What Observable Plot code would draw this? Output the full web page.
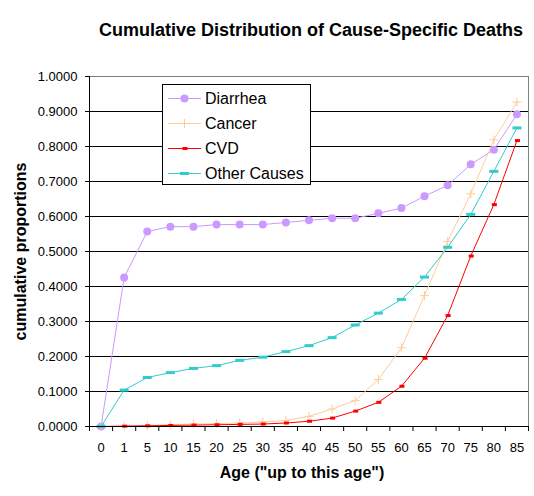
<!DOCTYPE html>
<html><head><meta charset="utf-8">
<script src="https://cdn.jsdelivr.net/npm/d3@7"></script>
<script src="https://cdn.jsdelivr.net/npm/@observablehq/plot@0.6"></script>
<style>
html,body{margin:0;padding:0;background:#fff;}
#chart{position:relative;width:534px;height:496px;}
</style></head><body><div id="chart"></div>
<script>
const title = "Cumulative Distribution of Cause-Specific Deaths";
const xLabel = 'Age ("up to this age")';
const yLabel = "cumulative proportions";
const ages = ["0","1","5","10","15","20","25","30","35","40","45","50","55","60","65","70","75","80","85"];
const yTicks = [0, 0.1, 0.2, 0.3, 0.4, 0.5, 0.6, 0.7, 0.8, 0.9, 1.0];
const seriesNames = ["Diarrhea", "Cancer", "CVD", "Other Causes"];
const seriesColors = ["#CC99FF", "#FFCC99", "#FF0000", "#33CCCC"];
const diarrhea = [0, 0.426, 0.557, 0.571, 0.571, 0.577, 0.577, 0.577, 0.583, 0.589, 0.595, 0.595, 0.609, 0.624, 0.658, 0.689, 0.749, 0.791, 0.892];
const cancer   = [0, 0.001, 0.003, 0.005, 0.007, 0.008, 0.010, 0.013, 0.017, 0.029, 0.050, 0.074, 0.134, 0.225, 0.374, 0.529, 0.665, 0.819, 0.927];
const cvd      = [0, 0.001, 0.002, 0.003, 0.004, 0.005, 0.006, 0.007, 0.010, 0.015, 0.024, 0.044, 0.069, 0.115, 0.195, 0.317, 0.487, 0.634, 0.817];
const other    = [0, 0.104, 0.140, 0.154, 0.166, 0.174, 0.189, 0.198, 0.214, 0.231, 0.254, 0.290, 0.324, 0.363, 0.427, 0.512, 0.606, 0.729, 0.853];
const seriesValues = [diarrhea, cancer, cvd, other];

const rows = seriesNames.flatMap((name, s) => seriesValues[s].map((v, i) => ({series: name, i, age: ages[i], v})));

const font = "'Liberation Sans', Arial, sans-serif";
const markerSymbols = [
  {draw(ctx){ ctx.moveTo(4, 0); ctx.arc(0, 0, 4, 0, 2 * Math.PI); }},
  {draw(ctx){ ctx.moveTo(-4.5, 0); ctx.lineTo(4.5, 0); ctx.moveTo(0, -4.5); ctx.lineTo(0, 4.5); }},
  {draw(ctx){ ctx.rect(-2, -1.5, 5, 3); }},
  {draw(ctx){ ctx.rect(-4.5, -1.5, 9, 3); }}
];
const markerFill = [true, false, true, true];

const marks = [
  Plot.ruleY(yTicks.filter(t => t > 0 && t < 1), {stroke: "#000"}),
  Plot.ruleY([1], {stroke: "#808080"}),
  Plot.ruleX([ages.length - 0.5], {stroke: "#808080"}),
  Plot.axisY({ticks: yTicks, tickFormat: d3.format(".4f"), tickSize: 4, tickPadding: 8, fontSize: 13, label: null, stroke: "#000"}),
  Plot.axisX(d3.range(ages.length + 1).map(k => k - 0.5), {tickSize: 5, tickFormat: () => "", label: null, stroke: "#000"}),
  Plot.axisX({ticks: d3.range(ages.length), tickFormat: i => ages[i], tickSize: 0, tickPadding: 16, fontSize: 13, label: null}),
  ...seriesNames.flatMap((name, s) => {
    const d = rows.filter(r => r.series === name);
    return [
      Plot.line(d, {x: "i", y: "v", stroke: seriesColors[s], strokeWidth: 1}),
      Plot.dot(d, {x: "i", y: "v", symbol: markerSymbols[s],
        fill: markerFill[s] ? seriesColors[s] : "none",
        stroke: markerFill[s] ? "none" : seriesColors[s], strokeWidth: 1})
    ];
  }),
  Plot.ruleX([-0.5], {stroke: "#000"}),
  Plot.ruleY([0], {stroke: "#000"}),
  Plot.text([title], {frameAnchor: "top", lineAnchor: "middle", textAnchor: "middle", dy: -46, dx: 2, fontSize: 18, fontWeight: "bold", fill: "#000"}),
  Plot.text([yLabel], {frameAnchor: "left", lineAnchor: "middle", textAnchor: "middle", dx: -69, rotate: -90, fontSize: 16, fontWeight: "bold", fill: "#000"}),
  Plot.text([xLabel], {frameAnchor: "bottom", lineAnchor: "middle", textAnchor: "middle", dy: 46, dx: -7, fontSize: 16, fontWeight: "bold", fill: "#000"})
];

const svgNode = Plot.plot({
  width: 534, height: 496,
  marginLeft: 89, marginRight: 6, marginTop: 76, marginBottom: 70,
  style: {fontFamily: font, fontSize: "13px", color: "#000", background: "#fff"},
  x: {domain: [-0.5, ages.length - 0.5], label: null},
  y: {domain: [0, 1], label: null},
  marks
});
document.getElementById("chart").appendChild(svgNode);

const svg = d3.select(svgNode);
svg.selectAll("line").attr("shape-rendering", "crispEdges");

// legend box inside the plot
const lg = svg.append("g").attr("font-family", font).attr("font-size", 16).attr("text-anchor", "start");
lg.append("rect").attr("x", 162.5).attr("y", 84.5).attr("width", 148).attr("height", 100)
  .attr("fill", "#fff").attr("stroke", "#000").attr("shape-rendering", "crispEdges");
seriesNames.forEach((name, s) => {
  const y = 98.5 + s * 25;
  lg.append("line").attr("x1", 168).attr("x2", 201).attr("y1", y).attr("y2", y).attr("stroke", seriesColors[s]);
  lg.append("path").attr("d", d3.symbol(markerSymbols[s])())
    .attr("transform", `translate(184.5,${y})`)
    .attr("fill", markerFill[s] ? seriesColors[s] : "none")
    .attr("stroke", markerFill[s] ? "none" : seriesColors[s]);
  lg.append("text").attr("x", 205).attr("y", y).attr("dy", "0.36em").attr("fill", "#000").text(name);
});
</script></body></html>
